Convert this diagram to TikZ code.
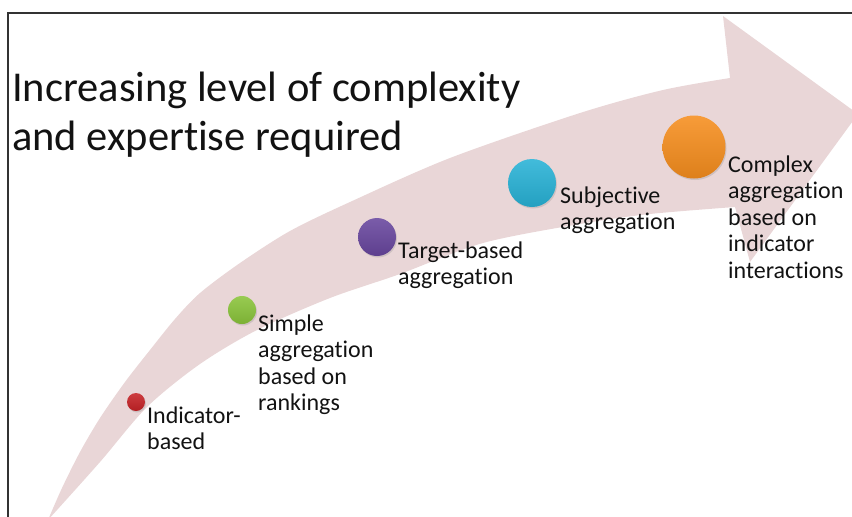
\documentclass[tikz,border=0pt]{standalone}
\usepackage{fontspec}
\setmainfont{Carlito}[Ligatures=NoCommon]
\usetikzlibrary{shadows}
\definecolor{arrowpink}{RGB}{233,214,215}
\definecolor{framecol}{RGB}{50,50,50}
\definecolor{textcol}{RGB}{18,18,18}
\definecolor{cred}{RGB}{198,34,38}
\definecolor{cgreen}{RGB}{138,196,58}
\definecolor{cpurple}{RGB}{104,70,158}
\definecolor{cblue}{RGB}{40,178,214}
\definecolor{corange}{RGB}{246,142,30}
\begin{document}
\begin{tikzpicture}[x=1pt,y=-1pt,
  lbl/.style={anchor=base west, inner sep=0pt, align=left,
    font=\fontsize{24}{26.5}\selectfont, text=textcol},
  dot/.style={circle, inner sep=0pt, draw=none,
    top color=#1!88!white, bottom color=#1!90!black,
    drop shadow={opacity=0.25, shadow xshift=1pt, shadow yshift=-1.5pt}}]
\useasboundingbox (0,0) rectangle (852,517);
\begin{scope}
\clip (0,0) rectangle (852,517);
\fill[arrowpink]
  plot[smooth] coordinates {(48,520) (62,488) (80,452) (100,418) (125,382)
    (150,350) (175,319) (200,293) (240,263) (290,231) (350,202) (450,158)
    (580,113) (663,90) (730,78)}
  -- (723,16) -- (858,114) -- (750,262) -- (735,207)
  -- plot[smooth] coordinates {(735,207) (650,214) (580,224) (483,243)
    (400,274) (330,298) (257,330) (200,364) (147,407) (100,462) (48,520)}
  -- cycle;
\end{scope}
\draw[framecol, line width=1.2pt] (852,13) -- (8,13) -- (8,517);

\node[anchor=base west, inner sep=0pt, align=left,
  font=\fontsize{42.5}{48.5}\selectfont, text=textcol] (title) at (12,150)
  {Increasing level of complexity\\and expertise required};

\node[dot=cred, minimum size=18pt] (d1) at (136,402) {};
\node[dot=cgreen, minimum size=28pt] (d2) at (242,310) {};
\node[dot=cpurple, minimum size=38pt] (d3) at (377,237) {};
\node[dot=cblue, minimum size=48pt] (d4) at (532,183) {};
\node[dot=corange, minimum size=63pt] (d5) at (694,147) {};

\node[lbl] (l1) at (147,449.5) {Indicator-\\based};
\node[lbl] (l2) at (258,410.5) {Simple\\aggregation\\based on\\rankings};
\node[lbl] (l3) at (398,284.5) {Target-based\\aggregation};
\node[lbl] (l4) at (560,229.5) {Subjective\\aggregation};
\node[lbl] (l5) at (728,278) {Complex\\aggregation\\based on\\indicator\\interactions};
\end{tikzpicture}
\end{document}
